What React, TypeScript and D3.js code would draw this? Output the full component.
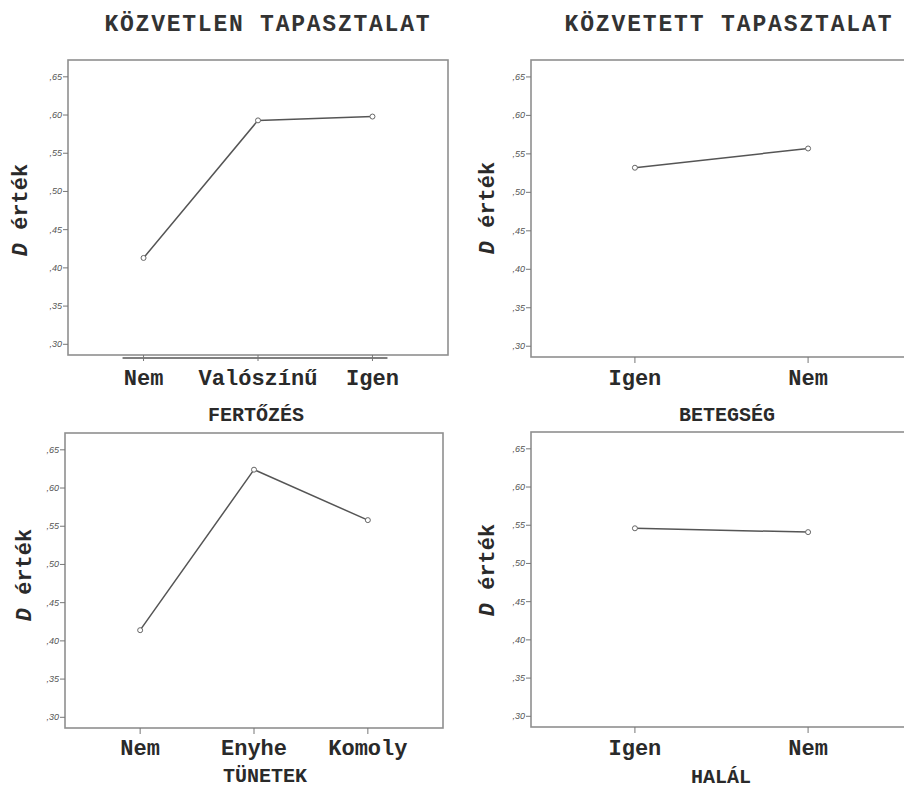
import { useEffect, useRef } from "react";
import * as d3 from "d3";

// ── Data ────────────────────────────────────────────────────────────────────

const columnTitles = ["KÖZVETLEN  TAPASZTALAT", "KÖZVETETT  TAPASZTALAT"];
const yLabel = "érték";
const yTicks = [0.3, 0.35, 0.4, 0.45, 0.5, 0.55, 0.6, 0.65];

const fertozesCats = ["Nem", "Valószínű", "Igen"];
const fertozesValues = [0.413, 0.593, 0.598];

const betegsegCats = ["Igen", "Nem"];
const betegsegValues = [0.532, 0.557];

const tunetekCats = ["Nem", "Enyhe", "Komoly"];
const tunetekValues = [0.414, 0.624, 0.558];

const halalCats = ["Igen", "Nem"];
const halalValues = [0.546, 0.541];

const W = 904;
const H = 789;
const MONO = "'Liberation Mono', 'Courier New', monospace";

interface Panel {
  title: string;
  cats: string[];
  values: number[];
  x0: number;
  x1: number;
  y0: number;
  y1: number;
  pad: number;
  ylx: number;
  yly: number;
  xtY: number;
  xtx: number;
  xtBase: number;
  extraLine?: boolean;
}

const panels: Panel[] = [
  { title: "FERTŐZÉS", cats: fertozesCats, values: fertozesValues, x0: 68, x1: 448, y0: 60, y1: 355, pad: 0.66, ylx: 27, yly: 210, xtY: 385, xtx: 256, xtBase: 421, extraLine: true },
  { title: "BETEGSÉG", cats: betegsegCats, values: betegsegValues, x0: 531, x1: 912, y0: 60, y1: 357, pad: 0.6, ylx: 494, yly: 208, xtY: 385, xtx: 727, xtBase: 421 },
  { title: "TÜNETEK", cats: tunetekCats, values: tunetekValues, x0: 65, x1: 443, y0: 433, y1: 728, pad: 0.66, ylx: 31, yly: 575, xtY: 755, xtx: 265, xtBase: 782 },
  { title: "HALÁL", cats: halalCats, values: halalValues, x0: 531, x1: 912, y0: 432, y1: 727, pad: 0.6, ylx: 494, yly: 570, xtY: 755, xtx: 721, xtBase: 783 },
];

const fmt = (v: number) => d3.format(".2f")(v).replace("0.", ",");

export default function App() {
  const ref = useRef<SVGSVGElement | null>(null);

  useEffect(() => {
    if (!ref.current) return;
    const svg = d3.select(ref.current);
    svg.selectAll("*").remove();

    svg.append("rect").attr("width", W).attr("height", H).attr("fill", "#fff");

    // ── Column titles ──────────────────────────────────────────────────────
    const titleX = [267, 728];
    const titleLen = [325, 327];
    columnTitles.forEach((t, i) => {
      svg
        .append("text")
        .attr("x", titleX[i])
        .attr("y", 31)
        .attr("text-anchor", "middle")
        .attr("font-family", MONO)
        .attr("font-size", 23)
        .attr("font-weight", "bold")
        .attr("fill", "#333")
        .attr("textLength", titleLen[i])
        .attr("lengthAdjust", "spacing")
        .text(t);
    });

    panels.forEach((p) => {
      const g = svg.append("g");
      const x = d3.scalePoint<string>().domain(p.cats).range([p.x0, p.x1]).padding(p.pad);
      const y = d3.scaleLinear().domain([0.286, 0.672]).range([p.y1, p.y0]);

      // frame
      g.append("rect")
        .attr("x", p.x0)
        .attr("y", p.y0)
        .attr("width", p.x1 - p.x0)
        .attr("height", p.y1 - p.y0)
        .attr("fill", "none")
        .attr("stroke", "#8f8f8f")
        .attr("stroke-width", 1.6);

      if (p.extraLine) {
        const first = x(p.cats[0]) as number;
        const last = x(p.cats[p.cats.length - 1]) as number;
        g.append("line")
          .attr("x1", first - 21)
          .attr("x2", last + 15)
          .attr("y1", p.y1 + 3)
          .attr("y2", p.y1 + 3)
          .attr("stroke", "#555")
          .attr("stroke-width", 1.5);
      }

      // y ticks
      yTicks.forEach((t) => {
        g.append("line")
          .attr("x1", p.x0 - 5)
          .attr("x2", p.x0)
          .attr("y1", y(t))
          .attr("y2", y(t))
          .attr("stroke", "#777")
          .attr("stroke-width", 1);
        g.append("text")
          .attr("x", p.x0 - 6)
          .attr("y", y(t) + 3)
          .attr("text-anchor", "end")
          .attr("font-family", "'Liberation Sans', Arial, sans-serif")
          .attr("font-style", "italic")
          .attr("font-size", 9)
          .attr("fill", "#555")
          .text(fmt(t));
      });

      // x ticks & labels
      p.cats.forEach((c) => {
        const cx = x(c) as number;
        g.append("line")
          .attr("x1", cx)
          .attr("x2", cx)
          .attr("y1", p.y1)
          .attr("y2", p.y1 + 6)
          .attr("stroke", "#777")
          .attr("stroke-width", 1);
        g.append("text")
          .attr("x", cx)
          .attr("y", p.xtY)
          .attr("text-anchor", "middle")
          .attr("font-family", MONO)
          .attr("font-size", 22)
          .attr("font-weight", "bold")
          .attr("fill", "#2a2a2a")
          .text(c);
      });

      // x title
      g.append("text")
        .attr("x", p.xtx)
        .attr("y", p.xtBase)
        .attr("text-anchor", "middle")
        .attr("font-family", MONO)
        .attr("font-size", 20)
        .attr("font-weight", "bold")
        .attr("fill", "#2a2a2a")
        .text(p.title);

      // y title
      const yt = g
        .append("text")
        .attr("transform", `translate(${p.ylx},${p.yly}) rotate(-90)`)
        .attr("text-anchor", "middle")
        .attr("font-family", MONO)
        .attr("font-size", 22)
        .attr("font-weight", "bold")
        .attr("fill", "#2a2a2a");
      yt.append("tspan").attr("font-style", "italic").text("D");
      yt.append("tspan").text(" " + yLabel);

      // line + points
      const pts = p.cats.map((c, i) => [x(c) as number, y(p.values[i])] as [number, number]);
      g.append("path")
        .attr("d", d3.line()(pts))
        .attr("fill", "none")
        .attr("stroke", "#555")
        .attr("stroke-width", 1.5);
      g.selectAll("circle.pt")
        .data(pts)
        .enter()
        .append("circle")
        .attr("class", "pt")
        .attr("cx", (d) => d[0])
        .attr("cy", (d) => d[1])
        .attr("r", 2.5)
        .attr("fill", "#fff")
        .attr("stroke", "#666")
        .attr("stroke-width", 1);
    });
  }, []);

  return (
    <svg
      ref={ref}
      width={W}
      height={H}
      style={{ position: "absolute", left: 0, top: 0, display: "block" }}
    />
  );
}
